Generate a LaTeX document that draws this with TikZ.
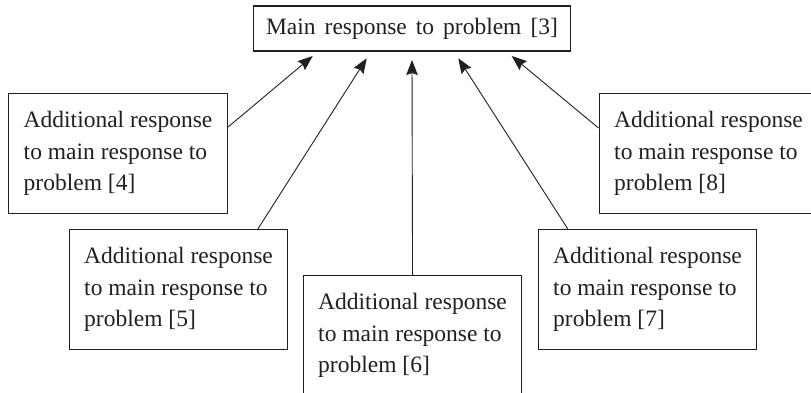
\documentclass[tikz,border=0pt]{standalone}
\usepackage{fontspec}
\setmainfont{Liberation Serif}
\usetikzlibrary{arrows.meta}
\definecolor{ink}{HTML}{231F20}
\begin{document}
\begin{tikzpicture}[x=1pt,y=-1pt,
  every node/.style={font=\fontsize{23.5}{31.5}\selectfont, text=ink},
  mainbox/.style={draw=ink, line width=1.1pt, minimum width=317pt, minimum height=45pt, inner sep=0pt},
  subbox/.style={draw=ink, line width=1.1pt, align=left, anchor=north west,
                 minimum width=219pt, minimum height=120pt, inner sep=0pt},
  link/.style={draw=ink, line width=0.9pt, -{Stealth[length=15pt,width=11.5pt,inset=2pt]}}]
\useasboundingbox (0,0) rectangle (811,393);
\node[mainbox] (main) at (412,28.5) {\spaceskip=9pt Main response to problem [3]};
\node[subbox] (b4) at (8,93) {Additional response\\to main response to\\problem [4]};
\node[subbox, minimum width=218pt] (b5) at (69,229) {Additional response\\to main response to\\problem [5]};
\node[subbox, minimum width=218pt] (b6) at (303,275) {Additional response\\to main response to\\problem [6]};
\node[subbox, minimum width=218pt] (b7) at (538,229) {Additional response\\to main response to\\problem [7]};
\node[subbox] (b8) at (598.5,93) {Additional response\\to main response to\\problem [8]};
\coordinate (t4) at (312.7,56);
\coordinate (t5) at (366.7,58.3);
\coordinate (t6) at (412,60);
\coordinate (t7) at (458.3,58.3);
\coordinate (t8) at (511.7,56);
\draw[link] ([yshift=-34pt]b4.north east) -- (t4);
\draw[link] ([xshift=79.3pt]b5.north) -- (t5);
\draw[link] (b6.north) -- (t6);
\draw[link] ([xshift=-79.7pt]b7.north) -- (t7);
\draw[link] ([yshift=-35pt]b8.north west) -- (t8);
\end{tikzpicture}
\end{document}
